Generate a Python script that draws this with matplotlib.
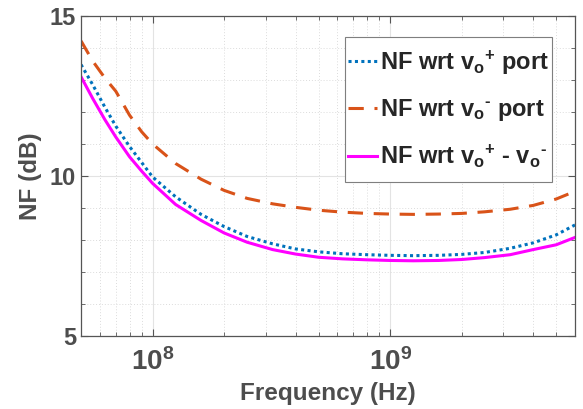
import matplotlib
matplotlib.use('Agg')
import matplotlib.pyplot as plt
import numpy as np
from matplotlib.patches import Rectangle
from matplotlib.ticker import MultipleLocator, LogLocator, NullFormatter

plt.rcParams['font.family'] = 'Liberation Sans'
plt.rcParams['font.weight'] = 'bold'
plt.rcParams['mathtext.fontset'] = 'custom'
plt.rcParams['mathtext.rm'] = 'Liberation Sans:bold'
plt.rcParams['mathtext.it'] = 'Liberation Sans:bold'
plt.rcParams['mathtext.bf'] = 'Liberation Sans:bold'

# frequency points (Hz)
freq = [5e7, 5.6e7, 6.3e7, 7e7, 8e7, 9e7, 1e8, 1.25e8, 1.6e8, 2e8, 2.5e8,
        3.2e8, 4e8, 5e8, 6.3e8, 8e8, 1e9, 1.25e9, 1.6e9, 2e9, 2.5e9,
        3.2e9, 4e9, 5e9, 6e9]

# NF (dB)
nf_plus = [13.48, 12.85, 12.15, 11.56, 10.92, 10.42, 9.97, 9.35, 8.80, 8.42,
           8.11, 7.88, 7.72, 7.63, 7.57, 7.54, 7.52, 7.51, 7.52, 7.55,
           7.61, 7.74, 7.91, 8.16, 8.47]
nf_minus = [14.22, 13.59, 13.06, 12.65, 11.90, 11.38, 11.00, 10.39, 9.90, 9.55,
            9.30, 9.13, 9.02, 8.93, 8.87, 8.83, 8.81, 8.80, 8.81, 8.83,
            8.88, 8.96, 9.08, 9.28, 9.52]
nf_diff = [13.10, 12.42, 11.76, 11.22, 10.60, 10.15, 9.77, 9.11, 8.61, 8.22,
           7.93, 7.70, 7.56, 7.46, 7.41, 7.38, 7.36, 7.35, 7.36, 7.39,
           7.45, 7.54, 7.70, 7.85, 8.08]

labels = [r'NF wrt v$_\mathrm{o}$$^\mathrm{+}$ port',
          r'NF wrt v$_\mathrm{o}$$^\text{-}$ port',
          r'NF wrt v$_\mathrm{o}$$^\mathrm{+}$ - v$_\mathrm{o}$$^\text{-}$']

fig = plt.figure(figsize=(5.83, 4.09), dpi=100)
ax = fig.add_axes([0.139, 0.1785, 0.8473, 0.7825])

ax.semilogx(freq, nf_plus, color='#0072BD', lw=2.2, linestyle=(0, (1, 1.1)), label=labels[0])
ax.semilogx(freq, nf_minus, color='#D95319', lw=2.2, linestyle=(0, (5, 3.5)), label=labels[1])
ax.semilogx(freq, nf_diff, color='#FF00FF', lw=2.2, label=labels[2])

ax.set_xlim(5e7, 6e9)
ax.set_ylim(5, 15)
ax.yaxis.set_major_locator(MultipleLocator(5))
ax.yaxis.set_minor_locator(MultipleLocator(1))
ax.xaxis.set_major_locator(LogLocator(base=10, numticks=10))
ax.xaxis.set_minor_locator(LogLocator(base=10, subs=np.arange(2, 10), numticks=20))
ax.xaxis.set_minor_formatter(NullFormatter())

ax.grid(True, which='major', color='#e3e3e3', lw=0.8, linestyle='-')
ax.grid(True, which='minor', color='#dcdcdc', lw=0.7, linestyle=(0, (1, 2)))
ax.yaxis.set_tick_params(which='minor', length=0)
ax.set_axisbelow(True)

tc = '#4d4d4d'
ax.tick_params(which='both', direction='in', top=True, right=True, colors='#555555',
               labelcolor=tc, labelsize=17)
ax.tick_params(which='major', length=5, width=0.8)
ax.tick_params(which='minor', length=3, width=0.6)
ax.tick_params(axis='x', pad=9, labelsize=20)
for s in ax.spines.values():
    s.set_color('#555555')
    s.set_linewidth(0.9)

ax.set_xlabel('Frequency (Hz)', fontsize=17.5, fontweight='bold', color=tc, labelpad=4)
ax.set_ylabel('NF (dB)', fontsize=17.5, fontweight='bold', color=tc, labelpad=6)

# legend box drawn separately so its padding can match
ax.add_patch(Rectangle((0.534, 0.481), 0.419, 0.453, transform=ax.transAxes,
                       facecolor='white', edgecolor='#7f7f7f', lw=0.8, zorder=4.5))
leg = ax.legend(loc='center', bbox_to_anchor=(0.744, 0.708), borderaxespad=0,
                fontsize=17, handlelength=1.23, handletextpad=0.12, labelspacing=0.86,
                borderpad=0.1, frameon=False)
for t in leg.get_texts():
    t.set_color('#262626')

fig.savefig('out.png', dpi=100)
